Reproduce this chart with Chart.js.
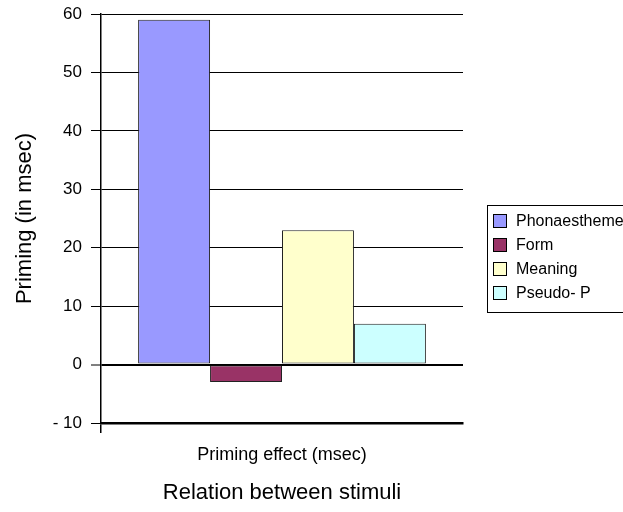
<!DOCTYPE html>
<html>
<head>
<meta charset="utf-8">
<script src="https://cdn.jsdelivr.net/npm/chart.js@4/dist/chart.umd.min.js"></script>
<style>
  html, body { margin: 0; padding: 0; background: #fff; overflow: hidden; }
  #wrap { width: 623px; height: 512px; }
</style>
</head>
<body>
<div id="wrap"><canvas id="c" width="623" height="512"></canvas></div>
<script>
// ---- data ----
const categories = ['Priming effect (msec)'];
const seriesNames = ['Phonaestheme', 'Form', 'Meaning', 'Pseudo- P'];
const phonaesthemeValues = [59];
const formValues = [-3];
const meaningValues = [23];
const pseudoValues = [7];
const yTickValues = [-10, 0, 10, 20, 30, 40, 50, 60];
const yAxisTitle = 'Priming (in msec)';
const xAxisTitle = 'Relation between stimuli';

const FONT = "'Liberation Sans', Arial, sans-serif";
const colors = ['#9999FF', '#993366', '#FFFFCC', '#CCFFFF'];
const seriesValues = [phonaesthemeValues, formValues, meaningValues, pseudoValues];

const datasets = seriesNames.map((name, i) => ({
  label: name,
  data: seriesValues[i],
  backgroundColor: colors[i],
  borderColor: '#222',
  borderWidth: 1,
  borderSkipped: false,
  categoryPercentage: 0.795,
  barPercentage: 1.0
}));

const boxedLegend = {
  id: 'boxedLegend',
  afterDraw(chart, args, opts) {
    const ctx = chart.ctx;
    ctx.save();
    ctx.strokeStyle = '#000';
    ctx.lineWidth = 1;
    ctx.strokeRect(opts.x + 0.5, opts.y + 0.5, opts.w, opts.h);
    ctx.font = opts.fontSize + 'px ' + FONT;
    ctx.textBaseline = 'middle';
    ctx.textAlign = 'left';
    chart.data.datasets.forEach((ds, i) => {
      const cy = opts.firstRow + i * opts.rowGap;
      ctx.fillStyle = ds.backgroundColor;
      ctx.fillRect(opts.boxX, cy - opts.box / 2, opts.box, opts.box);
      ctx.strokeStyle = '#000';
      ctx.strokeRect(opts.boxX + 0.5, cy - opts.box / 2 + 0.5, opts.box - 1, opts.box - 1);
      ctx.fillStyle = '#000';
      ctx.fillText(ds.label, opts.textX, cy + 1);
    });
    ctx.restore();
  }
};

new Chart(document.getElementById('c'), {
  type: 'bar',
  data: { labels: categories, datasets },
  plugins: [boxedLegend],
  options: {
    responsive: false,
    animation: false,
    devicePixelRatio: 1,
    layout: { padding: { top: 14, right: 160, bottom: 0, left: 0 } },
    plugins: {
      legend: { display: false },
      tooltip: { enabled: false },
      boxedLegend: { x: 487, y: 205, w: 200, h: 107, boxX: 493, box: 14, textX: 516, firstRow: 221, rowGap: 24, fontSize: 16 }
    },
    scales: {
      x: {
        offset: true,
        afterFit(scale) { scale.height = 89; scale.paddingLeft = 0; scale.paddingRight = 0; },
        grid: {
          display: true,
          offset: true,
          drawOnChartArea: false,
          drawTicks: true,
          tickLength: 10,
          lineWidth: 1.5,
          color: (c) => (c.index === 0 ? '#000' : 'rgba(0,0,0,0)')
        },
        border: { display: true, color: '#000', width: 2.5 },
        ticks: { color: '#000', font: { family: FONT, size: 18 }, padding: 11, maxRotation: 0 },
        title: { display: true, text: xAxisTitle, color: '#000', font: { family: FONT, size: 22 }, padding: { top: 4, bottom: 6 } }
      },
      y: {
        min: -10,
        max: 60,
        afterFit(scale) { scale.width = 101; scale.paddingTop = 0; scale.paddingBottom = 0; },
        afterBuildTicks(scale) { scale.ticks = yTickValues.map(v => ({ value: v })); },
        grid: {
          color: '#000',
          lineWidth: (c) => (c.tick && c.tick.value === 0 ? 2 : 1),
          tickWidth: 1,
          tickLength: 10,
          drawTicks: true
        },
        border: { display: true, color: '#000', width: 1.5 },
        ticks: {
          color: '#000',
          font: { family: FONT, size: 17 },
          padding: 9,
          callback: (v) => (v < 0 ? '- ' + Math.abs(v) : String(v))
        },
        title: { display: true, text: yAxisTitle, color: '#000', font: { family: FONT, size: 22 }, padding: { top: 12, bottom: 0 } }
      }
    }
  }
});
</script>
</body>
</html>
